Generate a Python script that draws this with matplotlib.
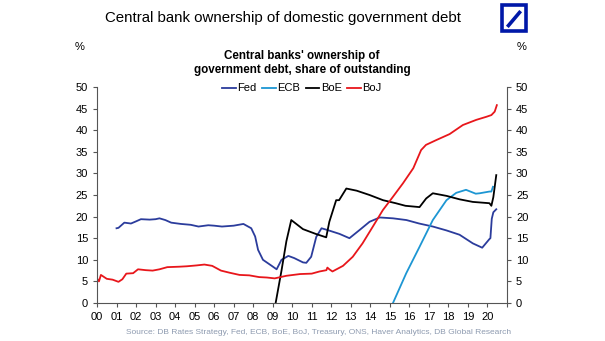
import matplotlib.pyplot as plt
from matplotlib.patches import Rectangle
from matplotlib.lines import Line2D

plt.rcParams["font.family"] = ["Liberation Sans", "DejaVu Sans"]

# Central bank holdings, % of outstanding government debt (decimal years)
fed_t = [2001.0, 2001.1, 2001.4, 2001.74, 2002.0, 2002.25, 2002.7, 2003.0, 2003.2, 2003.5,
         2003.8, 2004.3, 2004.8, 2005.2, 2005.7, 2006.0, 2006.4, 2007.0, 2007.5, 2007.9,
         2008.1, 2008.25, 2008.5, 2008.95, 2009.2, 2009.45, 2009.8, 2010.1, 2010.55, 2010.72,
         2010.97, 2011.23, 2011.5, 2011.8, 2012.42, 2012.93, 2013.45, 2013.96, 2014.48, 2015.16,
         2015.85, 2016.5, 2017.2, 2017.9, 2018.57, 2019.25, 2019.73, 2020.1, 2020.15, 2020.22,
         2020.3, 2020.45]
fed = [17.3, 17.4, 18.6, 18.4, 18.9, 19.4, 19.3, 19.4, 19.6, 19.2,
       18.6, 18.3, 18.1, 17.7, 18.0, 17.9, 17.7, 17.9, 18.3, 17.3,
       15.4, 12.3, 10.0, 8.6, 7.8, 10.0, 10.9, 10.4, 9.4, 9.3,
       10.7, 15.3, 17.3, 16.9, 16.0, 15.0, 16.9, 18.8, 19.8, 19.6,
       19.2, 18.4, 17.7, 16.8, 15.8, 13.8, 12.8, 14.8, 15.0, 19.5,
       21.0, 21.7]

ecb_t = [2015.16, 2015.84, 2016.52, 2017.2, 2017.9, 2018.4, 2018.9, 2019.4, 2019.6, 2020.1,
         2020.2, 2020.28]
ecb = [0.0, 6.9, 13.0, 19.2, 23.8, 25.5, 26.2, 25.3, 25.4, 25.8,
       25.8, 26.9]

boe_t = [2009.15, 2009.45, 2009.7, 2009.95, 2010.55, 2011.2, 2011.74, 2011.9, 2012.25, 2012.4,
         2012.77, 2013.3, 2013.96, 2014.65, 2015.3, 2015.8, 2016.52, 2016.86, 2017.2, 2017.9,
         2018.57, 2019.25, 2020.1, 2020.2, 2020.3, 2020.45]
boe = [0.0, 7.5, 14.3, 19.2, 17.1, 16.0, 15.2, 18.8, 23.8, 23.8,
       26.5, 26.0, 25.0, 23.8, 23.1, 22.5, 22.2, 24.2, 25.4, 24.8,
       24.0, 23.4, 23.1, 22.5, 24.5, 29.6]

boj_t = [2000.0, 2000.1, 2000.2, 2000.5, 2000.8, 2001.1, 2001.3, 2001.5, 2001.85, 2002.1,
         2002.5, 2002.85, 2003.2, 2003.6, 2004.2, 2004.6, 2005.1, 2005.5, 2005.9, 2006.35,
         2006.8, 2007.3, 2007.8, 2008.3, 2008.7, 2009.1, 2009.7, 2010.4, 2011.0, 2011.4,
         2011.75, 2011.8, 2011.9, 2012.06, 2012.6, 2013.1, 2013.6, 2014.13, 2014.64, 2015.16,
         2015.67, 2016.2, 2016.6, 2016.85, 2017.37, 2018.06, 2018.74, 2019.43, 2019.94, 2020.2,
         2020.37, 2020.48]
boj = [5.7, 5.0, 6.5, 5.6, 5.4, 4.9, 5.5, 6.8, 6.9, 7.8,
       7.6, 7.5, 7.8, 8.3, 8.4, 8.5, 8.7, 8.9, 8.6, 7.5,
       7.0, 6.5, 6.4, 6.0, 5.9, 5.7, 6.3, 6.7, 6.8, 7.3,
       7.6, 8.2, 7.8, 7.3, 8.6, 10.7, 13.8, 17.7, 21.5, 24.6,
       27.7, 31.2, 35.4, 36.6, 37.7, 39.1, 41.2, 42.4, 43.1, 43.5,
       44.3, 45.8]

years = list(range(2000, 2021))
year_labels = [f"{y % 100:02d}" for y in years]
y_ticks = list(range(0, 51, 5))

W, H = 605, 341
fig = plt.figure(figsize=(W / 100, H / 100), dpi=100)
ax = fig.add_axes([97 / W, (H - 303) / H, 410 / W, 216 / H])

ax.plot(fed_t, fed, color="#2b3c9c", lw=1.3, label="Fed")
ax.plot(ecb_t, ecb, color="#1d96d3", lw=1.3, label="ECB")
ax.plot(boe_t, boe, color="black", lw=1.3, label="BoE")
ax.plot(boj_t, boj, color="#e8161b", lw=1.3, label="BoJ")

ax.set_xlim(2000, 2021)
ax.set_ylim(0, 50)
ax.set_xticks(years + [2021])
ax.set_xticklabels(year_labels + [""])
ax.set_yticks(y_ticks)
ax.tick_params(axis="both", labelsize=8, length=3, width=0.8, color="#555555", pad=3.5)
ax.tick_params(axis="y", labelright=True, right=True)
ax.spines["top"].set_visible(False)
for side in ("left", "right", "bottom"):
    ax.spines[side].set_color("#555555")
    ax.spines[side].set_linewidth(0.8)

ax.legend(loc="upper center", bbox_to_anchor=(0.5, 1.037), ncol=4, frameon=False,
          fontsize=8, handlelength=1.2, handletextpad=0.15, columnspacing=0.5,
          borderaxespad=0)

fig.text(283 / W, 1 - 18 / H, "Central bank ownership of domestic government debt",
         ha="center", va="center", fontsize=10.8)
fig.text(302 / W, 1 - 63 / H, "Central banks' ownership of\ngovernment debt, share of outstanding",
         ha="center", va="center", fontsize=8.4, fontweight="bold", linespacing=1.25)
fig.text(80 / W, 1 - 47 / H, "%", ha="center", va="center", fontsize=8)
fig.text(522 / W, 1 - 47 / H, "%", ha="center", va="center", fontsize=8)
fig.text(319 / W, 1 - 333 / H,
         "Source: DB Rates Strategy, Fed, ECB, BoE, BoJ, Treasury, ONS, Haver Analytics, DB Global Research",
         ha="center", va="center", fontsize=6.0, color="#8e9bb0")

# logo: blue box with a slash
logo_blue = "#0018a8"
fig.patches.append(Rectangle((502 / W, 1 - 30.5 / H), 23.5 / W, 25 / H, transform=fig.transFigure,
                             fill=False, edgecolor=logo_blue, linewidth=2.6))
fig.lines.append(Line2D([508.5 / W, 519.5 / W], [1 - 25.5 / H, 1 - 12.5 / H],
                        transform=fig.transFigure, color=logo_blue, linewidth=2.6))

fig.savefig("out.png", dpi=100)
